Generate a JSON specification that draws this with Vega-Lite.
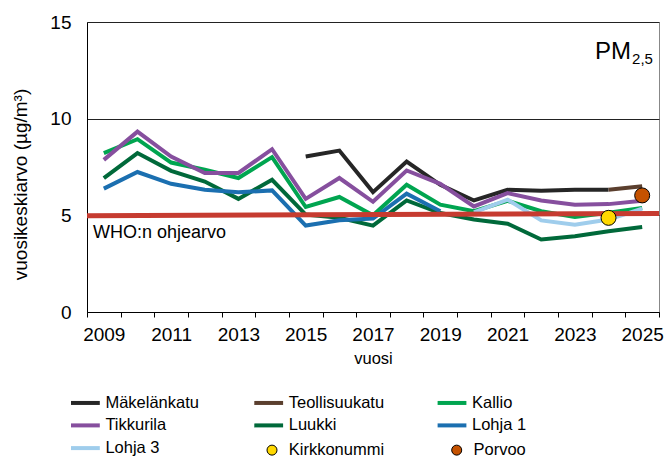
{
  "$schema": "https://vega.github.io/schema/vega-lite/v6.json",
  "width": 572,
  "height": 290,
  "autosize": {"type": "none"},
  "padding": {"left": 87, "top": 22, "right": 6, "bottom": 147},
  "config": {
    "font": "Liberation Sans",
    "view": {"stroke": "#888888", "strokeWidth": 1},
    "axis": {"labelColor": "black", "titleColor": "black", "titleFontWeight": "normal", "domainColor": "black", "tickColor": "black"},
    "legend": {"labelColor": "black", "labelFont": "Liberation Sans", "padding": 0}
  },
  "datasets": {
    "series": [
      {"station": "Mäkelänkatu", "year": 2015, "value": 8.04},
      {"station": "Mäkelänkatu", "year": 2016, "value": 8.35},
      {"station": "Mäkelänkatu", "year": 2017, "value": 6.2},
      {"station": "Mäkelänkatu", "year": 2018, "value": 7.78},
      {"station": "Mäkelänkatu", "year": 2019, "value": 6.58},
      {"station": "Mäkelänkatu", "year": 2020, "value": 5.77},
      {"station": "Mäkelänkatu", "year": 2021, "value": 6.32},
      {"station": "Mäkelänkatu", "year": 2022, "value": 6.27},
      {"station": "Mäkelänkatu", "year": 2023, "value": 6.32},
      {"station": "Mäkelänkatu", "year": 2024, "value": 6.32},
      {"station": "Teollisuukatu", "year": 2024, "value": 6.32},
      {"station": "Teollisuukatu", "year": 2025, "value": 6.5},
      {"station": "Kallio", "year": 2009, "value": 8.22},
      {"station": "Kallio", "year": 2010, "value": 8.94},
      {"station": "Kallio", "year": 2011, "value": 7.73},
      {"station": "Kallio", "year": 2012, "value": 7.36},
      {"station": "Kallio", "year": 2013, "value": 6.93},
      {"station": "Kallio", "year": 2014, "value": 8.01},
      {"station": "Kallio", "year": 2015, "value": 5.43},
      {"station": "Kallio", "year": 2016, "value": 5.95},
      {"station": "Kallio", "year": 2017, "value": 5.0},
      {"station": "Kallio", "year": 2018, "value": 6.58},
      {"station": "Kallio", "year": 2019, "value": 5.55},
      {"station": "Kallio", "year": 2020, "value": 5.21},
      {"station": "Kallio", "year": 2021, "value": 5.75},
      {"station": "Kallio", "year": 2022, "value": 5.21},
      {"station": "Kallio", "year": 2023, "value": 4.92},
      {"station": "Kallio", "year": 2024, "value": 5.13},
      {"station": "Kallio", "year": 2025, "value": 5.38},
      {"station": "Tikkurila", "year": 2009, "value": 7.87},
      {"station": "Tikkurila", "year": 2010, "value": 9.33},
      {"station": "Tikkurila", "year": 2011, "value": 8.04},
      {"station": "Tikkurila", "year": 2012, "value": 7.19},
      {"station": "Tikkurila", "year": 2013, "value": 7.19},
      {"station": "Tikkurila", "year": 2014, "value": 8.42},
      {"station": "Tikkurila", "year": 2015, "value": 5.85},
      {"station": "Tikkurila", "year": 2016, "value": 6.93},
      {"station": "Tikkurila", "year": 2017, "value": 5.7},
      {"station": "Tikkurila", "year": 2018, "value": 7.32},
      {"station": "Tikkurila", "year": 2019, "value": 6.63},
      {"station": "Tikkurila", "year": 2020, "value": 5.46},
      {"station": "Tikkurila", "year": 2021, "value": 6.15},
      {"station": "Tikkurila", "year": 2022, "value": 5.77},
      {"station": "Tikkurila", "year": 2023, "value": 5.55},
      {"station": "Tikkurila", "year": 2024, "value": 5.58},
      {"station": "Tikkurila", "year": 2025, "value": 5.76},
      {"station": "Luukki", "year": 2009, "value": 6.93},
      {"station": "Luukki", "year": 2010, "value": 8.22},
      {"station": "Luukki", "year": 2011, "value": 7.3},
      {"station": "Luukki", "year": 2012, "value": 6.75},
      {"station": "Luukki", "year": 2013, "value": 5.85},
      {"station": "Luukki", "year": 2014, "value": 6.84},
      {"station": "Luukki", "year": 2015, "value": 5.04},
      {"station": "Luukki", "year": 2016, "value": 4.87},
      {"station": "Luukki", "year": 2017, "value": 4.47},
      {"station": "Luukki", "year": 2018, "value": 5.77},
      {"station": "Luukki", "year": 2019, "value": 5.12},
      {"station": "Luukki", "year": 2020, "value": 4.78},
      {"station": "Luukki", "year": 2021, "value": 4.57},
      {"station": "Luukki", "year": 2022, "value": 3.75},
      {"station": "Luukki", "year": 2023, "value": 3.92},
      {"station": "Luukki", "year": 2024, "value": 4.18},
      {"station": "Luukki", "year": 2025, "value": 4.4},
      {"station": "Lohja 1", "year": 2009, "value": 6.38},
      {"station": "Lohja 1", "year": 2010, "value": 7.24},
      {"station": "Lohja 1", "year": 2011, "value": 6.63},
      {"station": "Lohja 1", "year": 2012, "value": 6.32},
      {"station": "Lohja 1", "year": 2013, "value": 6.19},
      {"station": "Lohja 1", "year": 2014, "value": 6.29},
      {"station": "Lohja 1", "year": 2015, "value": 4.47},
      {"station": "Lohja 1", "year": 2016, "value": 4.74},
      {"station": "Lohja 1", "year": 2017, "value": 4.83},
      {"station": "Lohja 1", "year": 2018, "value": 6.12},
      {"station": "Lohja 1", "year": 2019, "value": 5.21},
      {"station": "Lohja 3", "year": 2020, "value": 5.15},
      {"station": "Lohja 3", "year": 2021, "value": 5.81},
      {"station": "Lohja 3", "year": 2022, "value": 4.74},
      {"station": "Lohja 3", "year": 2023, "value": 4.52},
      {"station": "Lohja 3", "year": 2024, "value": 4.78},
      {"station": "Lohja 3", "year": 2025, "value": 5.35}
    ],
    "who": [
      {"year": 2008.5, "value": 4.98},
      {"year": 2025.5, "value": 5.1}
    ],
    "whoLabel": [
      {"year": 2008.68, "value": 3.85, "text": "WHO:n ohjearvo"}
    ],
    "points": [
      {"station": "Kirkkonummi", "year": 2024, "value": 4.87},
      {"station": "Porvoo", "year": 2025, "value": 6.03}
    ],
    "pm": [
      {"year": 2024.67, "value": 13.11}
    ]
  },
  "encoding": {
    "x": {
      "field": "year",
      "type": "quantitative",
      "scale": {"domain": [2008.5, 2025.5], "nice": false, "zero": false},
      "axis": {
        "title": "vuosi",
        "values": [2008.5, 2009.5, 2010.5, 2011.5, 2012.5, 2013.5, 2014.5, 2015.5, 2016.5, 2017.5, 2018.5, 2019.5, 2020.5, 2021.5, 2022.5, 2023.5, 2024.5, 2025.5],
        "labelExpr": "(datum.value + 0.5) % 2 == 1 ? '' + (datum.value + 0.5) : ''",
        "labelOffset": 16.8,
        "labelOverlap": false,
        "labelBound": false,
        "labelFlush": false,
        "grid": false,
        "tickSize": 5,
        "labelFontSize": 19,
        "labelPadding": 8,
        "titleFontSize": 16.5,
        "titlePadding": 6
      }
    },
    "y": {
      "field": "value",
      "type": "quantitative",
      "scale": {"domain": [0, 15], "nice": false, "zero": true},
      "axis": {
        "title": "vuosikeskiarvo (µg/m³)",
        "values": [0, 5, 10, 15],
        "grid": true,
        "gridColor": "#222222",
        "gridWidth": 1,
        "ticks": false,
        "labelPadding": 16,
        "labelFontSize": 19,
        "titleFontSize": 19,
        "titleAngle": -90,
        "titleAlign": "center",
        "titleBaseline": "middle",
        "titleX": -67,
        "titleY": 162
      }
    }
  },
  "layer": [
    {
      "data": {"name": "series"},
      "mark": {"type": "line", "strokeWidth": 4},
      "encoding": {
        "stroke": {
          "field": "station",
          "type": "nominal",
          "scale": {
            "domain": ["Mäkelänkatu", "Teollisuukatu", "Kallio", "Tikkurila", "Luukki", "Lohja 1", "Lohja 3"],
            "range": ["#262626", "#5b3f2e", "#00a550", "#864f9e", "#00693a", "#1b6fb0", "#9fcdec"]
          },
          "legend": {
            "title": null,
            "orient": "none",
            "direction": "horizontal",
            "legendX": -16,
            "legendY": 370.7,
            "columns": 3,
            "gridAlign": "all",
            "columnPadding": 45.3,
            "rowPadding": 3.7,
            "symbolType": "M-1.8,0L1.8,0",
            "symbolSize": 256,
            "symbolStrokeWidth": 4,
            "symbolOffset": 4.4,
            "labelOffset": 10,
            "labelFontSize": 16.5
          }
        }
      }
    },
    {
      "data": {"name": "who"},
      "mark": {"type": "line", "stroke": "#c63b30", "strokeWidth": 5},
      "encoding": {}
    },
    {
      "data": {"name": "whoLabel"},
      "mark": {"type": "text", "align": "left", "baseline": "alphabetic", "fontSize": 18, "color": "black"},
      "encoding": {"text": {"field": "text"}}
    },
    {
      "data": {"name": "points"},
      "mark": {"type": "point", "filled": true, "size": 225, "shape": "circle", "stroke": "black", "strokeWidth": 1, "opacity": 1},
      "encoding": {
        "fill": {
          "field": "station",
          "type": "nominal",
          "scale": {"domain": ["Kirkkonummi", "Porvoo"], "range": ["#ffd800", "#c55200"]},
          "legend": {
            "title": null,
            "orient": "none",
            "direction": "horizontal",
            "legendX": 176.75,
            "legendY": 419.75,
            "columns": 2,
            "gridAlign": "all",
            "columnPadding": 63.7,
            "symbolType": "circle",
            "symbolSize": 100,
            "symbolStrokeColor": "black",
            "symbolStrokeWidth": 1,
            "symbolOpacity": 1,
            "labelOffset": 8.5,
            "labelFontSize": 16.5
          }
        }
      }
    },
    {
      "data": {"name": "pm"},
      "mark": {"type": "text", "text": "PM", "align": "right", "baseline": "alphabetic", "fontSize": 24, "color": "black"}
    },
    {
      "data": {"name": "pm"},
      "mark": {"type": "text", "text": "2,5", "align": "left", "baseline": "alphabetic", "fontSize": 15, "dx": 1, "dy": 5, "color": "black"}
    }
  ]
}
